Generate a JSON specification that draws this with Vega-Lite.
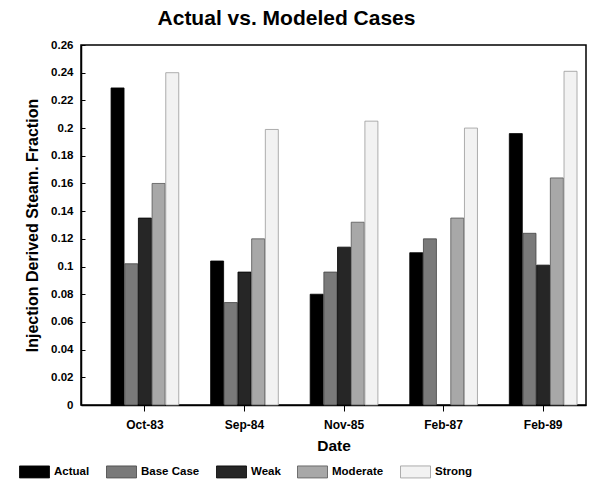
{
  "$schema": "https://vega.github.io/schema/vega-lite/v6.json",
  "autosize": {"type": "none"},
  "width": 505,
  "height": 360,
  "padding": {"left": 81, "top": 45, "right": 10, "bottom": 81},
  "background": "white",
  "title": {
    "text": "Actual vs. Modeled Cases",
    "font": "Liberation Sans",
    "fontSize": 21,
    "fontWeight": "bold",
    "color": "black",
    "anchor": "middle",
    "dx": -47,
    "offset": 10
  },
  "config": {
    "view": {"stroke": "black", "strokeWidth": 1.5},
    "font": "Liberation Sans"
  },
  "data": {
    "values": [
      {"Date": "Oct-83", "Series": "Actual", "Value": 0.229},
      {"Date": "Oct-83", "Series": "Base Case", "Value": 0.102},
      {"Date": "Oct-83", "Series": "Weak", "Value": 0.135},
      {"Date": "Oct-83", "Series": "Moderate", "Value": 0.160},
      {"Date": "Oct-83", "Series": "Strong", "Value": 0.240},
      {"Date": "Sep-84", "Series": "Actual", "Value": 0.104},
      {"Date": "Sep-84", "Series": "Base Case", "Value": 0.074},
      {"Date": "Sep-84", "Series": "Weak", "Value": 0.096},
      {"Date": "Sep-84", "Series": "Moderate", "Value": 0.120},
      {"Date": "Sep-84", "Series": "Strong", "Value": 0.199},
      {"Date": "Nov-85", "Series": "Actual", "Value": 0.080},
      {"Date": "Nov-85", "Series": "Base Case", "Value": 0.096},
      {"Date": "Nov-85", "Series": "Weak", "Value": 0.114},
      {"Date": "Nov-85", "Series": "Moderate", "Value": 0.132},
      {"Date": "Nov-85", "Series": "Strong", "Value": 0.205},
      {"Date": "Feb-87", "Series": "Actual", "Value": 0.110},
      {"Date": "Feb-87", "Series": "Base Case", "Value": 0.120},
      {"Date": "Feb-87", "Series": "Moderate", "Value": 0.135},
      {"Date": "Feb-87", "Series": "Strong", "Value": 0.200},
      {"Date": "Feb-89", "Series": "Actual", "Value": 0.196},
      {"Date": "Feb-89", "Series": "Base Case", "Value": 0.124},
      {"Date": "Feb-89", "Series": "Weak", "Value": 0.101},
      {"Date": "Feb-89", "Series": "Moderate", "Value": 0.164},
      {"Date": "Feb-89", "Series": "Strong", "Value": 0.241}
    ]
  },
  "mark": {"type": "bar", "strokeWidth": 0.8},
  "encoding": {
    "x": {
      "field": "Date",
      "type": "nominal",
      "scale": {
        "domain": ["Oct-83", "Sep-84", "Nov-85", "Feb-87", "Feb-89"],
        "paddingInner": 0.32,
        "paddingOuter": 0.196,
        "align": 0.77
      },
      "axis": {
        "title": "Date",
        "titleFont": "Liberation Sans",
        "titleFontSize": 15.5,
        "titleFontWeight": "bold",
        "titleColor": "black",
        "titlePadding": 8,
        "labelAngle": 0,
        "labelFont": "Liberation Sans",
        "labelFontSize": 12,
        "labelFontWeight": "bold",
        "labelColor": "black",
        "labelPadding": 8,
        "domainColor": "black",
        "domainWidth": 1.5,
        "tickColor": "black",
        "tickSize": 6,
        "tickWidth": 1
      }
    },
    "xOffset": {
      "field": "Series",
      "type": "nominal",
      "scale": {
        "domain": ["Actual", "Base Case", "Weak", "Moderate", "Strong"],
        "paddingInner": 0.05
      }
    },
    "y": {
      "field": "Value",
      "type": "quantitative",
      "scale": {"domain": [0, 0.26], "nice": false},
      "axis": {
        "title": "Injection Derived Steam. Fraction",
        "titleFont": "Liberation Sans",
        "titleFontSize": 16,
        "titleFontWeight": "bold",
        "titleColor": "black",
        "titlePadding": 10,
        "values": [0, 0.02, 0.04, 0.06, 0.08, 0.1, 0.12, 0.14, 0.16, 0.18, 0.2, 0.22, 0.24, 0.26],
        "format": "~g",
        "grid": false,
        "labelFont": "Liberation Sans",
        "labelFontSize": 11.5,
        "labelFontWeight": "bold",
        "labelColor": "black",
        "labelPadding": 12,
        "domainColor": "black",
        "domainWidth": 1.5,
        "tickColor": "black",
        "tickSize": -4,
        "tickWidth": 1
      }
    },
    "fill": {
      "field": "Series",
      "type": "nominal",
      "scale": {
        "domain": ["Actual", "Base Case", "Weak", "Moderate", "Strong"],
        "range": ["#000000", "#7a7a7a", "#262626", "#a8a8a8", "#f2f2f2"]
      },
      "legend": {
        "title": null,
        "orient": "none",
        "direction": "horizontal",
        "legendX": -62,
        "legendY": 411,
        "symbolType": "M-1,-0.4H1V0.4H-1Z",
        "symbolSize": 900,
        "symbolStrokeWidth": 0.8,
        "labelFont": "Liberation Sans",
        "labelFontSize": 11.5,
        "labelFontWeight": "bold",
        "labelColor": "black",
        "labelOffset": 4,
        "columnPadding": 14
      }
    },
    "stroke": {
      "field": "Series",
      "type": "nominal",
      "scale": {
        "domain": ["Actual", "Base Case", "Weak", "Moderate", "Strong"],
        "range": ["#000000", "#444444", "#000000", "#555555", "#999999"]
      },
      "legend": null
    }
  }
}
